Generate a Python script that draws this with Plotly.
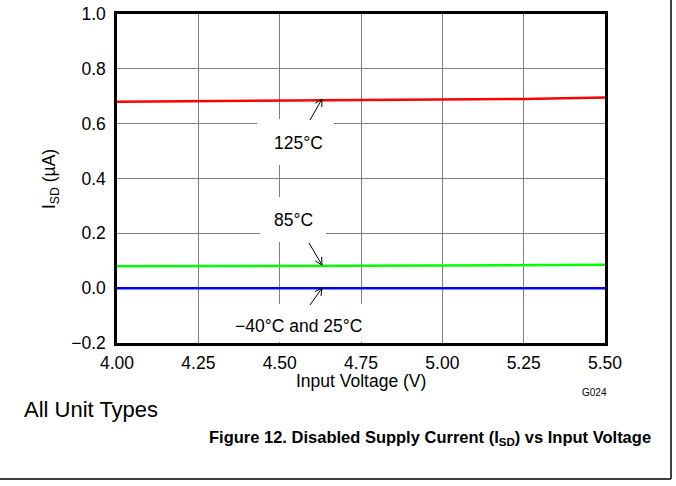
import plotly.graph_objects as go

# input voltage (V)
vin = [4.00, 4.25, 4.50, 4.75, 5.00, 5.25, 5.50]
# disabled supply current (uA) per temperature
isd_125 = [0.680, 0.682, 0.684, 0.685, 0.686, 0.690, 0.695]
isd_85 = [0.080, 0.080, 0.081, 0.082, 0.083, 0.084, 0.085]
isd_m40_25 = [0.000, 0.000, 0.000, 0.000, 0.000, 0.000, 0.000]

FONT = "Liberation Sans, Arial, sans-serif"

W, H = 676, 486
PL, PR, PT, PB = 117, 605, 14, 343   # plot area in window pixels
XR = (4.0, 5.5)
YR = (-0.2, 1.0)


def px(sx):  # window x -> paper x
    return (sx - PL) / (PR - PL)


def py(sy):  # window y -> paper y
    return (PB - sy) / (PB - PT)


def dx(sx):  # window x -> data x
    return XR[0] + (sx - PL) / (PR - PL) * (XR[1] - XR[0])


def dy(sy):  # window y -> data y
    return YR[0] + (PB - sy) / (PB - PT) * (YR[1] - YR[0])


fig = go.Figure()

fig.add_trace(go.Scatter(x=vin, y=isd_125, mode='lines', name='125°C',
                         line=dict(color='#ff0000', width=2.5)))
fig.add_trace(go.Scatter(x=vin, y=isd_85, mode='lines', name='85°C',
                         line=dict(color='#00ff00', width=2.5)))
fig.add_trace(go.Scatter(x=vin, y=isd_m40_25, mode='lines', name='-40°C and 25°C',
                         line=dict(color='#0000ff', width=2.5)))

# white boxes that break the grid behind the labels (window px)
boxes = [(257, 119, 334, 165), (260, 197, 326, 242), (224, 304, 374, 342)]
for x0, y0, x1, y1 in boxes:
    fig.add_shape(type='rect', xref='x', yref='y', layer='between',
                  x0=dx(x0), x1=dx(x1), y0=dy(y0), y1=dy(y1),
                  fillcolor='white', line=dict(width=0))

labels = [(298, 143, "125°C"), (293, 220, "85°C"), (298, 326, "−40°C and 25°C")]
for x, y, txt in labels:
    fig.add_annotation(x=dx(x), y=dy(y), text=txt, showarrow=False,
                       xanchor='center', yanchor='middle',
                       font=dict(size=17.5, color='black', family=FONT))

# arrows drawn as lines with open heads: (tail, head) in window px
arrows = [((310, 120), (322, 99)), ((309, 243), (322, 265)), ((310, 305), (322, 288))]
for (tx, ty), (hx, hy) in arrows:
    fig.add_shape(type='line', xref='x', yref='y', x0=dx(tx), y0=dy(ty), x1=dx(hx), y1=dy(hy),
                  line=dict(color='black', width=1))
    vx, vy = tx - hx, ty - hy
    n = (vx ** 2 + vy ** 2) ** 0.5
    ux, uy = vx / n, vy / n
    for s in (1, -1):
        # rotate back-vector by +-28 deg, length 8px
        c, si = 0.883, 0.469 * s
        ex = hx + 8 * (ux * c - uy * si)
        ey = hy + 8 * (ux * si + uy * c)
        fig.add_shape(type='line', xref='x', yref='y', x0=dx(hx), y0=dy(hy), x1=dx(ex), y1=dy(ey),
                      line=dict(color='black', width=1))

# axis titles and page texts
def page_text(x, y, text, size, xanchor='center', angle=0):
    fig.add_annotation(x=px(x), y=py(y), xref='paper', yref='paper', text=text,
                       xanchor=xanchor, yanchor='middle', textangle=angle,
                       showarrow=False, font=dict(size=size, family=FONT, color='black'))


page_text(361, 381, 'Input Voltage (V)', 17.5)
page_text(50, 179, 'I<sub>SD</sub> (µA)', 17.5, angle=-90)
page_text(594, 392, 'G024', 10)
page_text(22, 409, 'All Unit Types', 22, xanchor='left')
page_text(653, 438, '<b>Figure 12. Disabled Supply Current (I<sub>SD</sub>) vs Input Voltage</b>',
          16.5, xanchor='right')

# page border (right and bottom)
fig.add_shape(type='line', xref='paper', yref='paper',
              x0=px(671), x1=px(671), y0=py(-2), y1=py(479),
              line=dict(color='black', width=1.5))
fig.add_shape(type='line', xref='paper', yref='paper',
              x0=px(-2), x1=px(671), y0=py(479), y1=py(479),
              line=dict(color='black', width=1.5))

fig.update_layout(
    width=W, height=H,
    margin=dict(l=PL, r=W - PR, t=PT, b=H - PB),
    plot_bgcolor='white', paper_bgcolor='white',
    showlegend=False,
    font=dict(family=FONT, size=17.5, color='black'),
    xaxis=dict(range=list(XR), dtick=0.25, tick0=4.0, tickformat='.2f',
               showgrid=True, gridcolor='#808080', gridwidth=1,
               showline=True, linecolor='black', linewidth=2.5, mirror=True,
               ticks='outside', ticklen=2, tickcolor='rgba(0,0,0,0)',
               zeroline=False, automargin=False, ticklabeloverflow='allow'),
    yaxis=dict(range=list(YR), dtick=0.2, tick0=0, tickformat='.1f',
               showgrid=True, gridcolor='#808080', gridwidth=1,
               showline=True, linecolor='black', linewidth=2.5, mirror=True,
               ticks='outside', ticklen=5, tickcolor='rgba(0,0,0,0)',
               zeroline=False, automargin=False, ticklabeloverflow='allow'),
)

# drop the default body margin so the figure fills the window exactly
fig.write_html("out.html", config={'displayModeBar': False},
               post_script="document.body.style.margin='0';document.body.style.overflow='hidden';")
